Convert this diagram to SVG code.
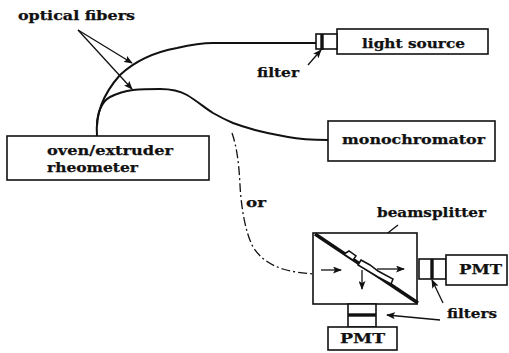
<svg xmlns="http://www.w3.org/2000/svg" width="509" height="353" viewBox="0 0 509 353">
<style>
.b{fill:#fff;stroke:#111;stroke-width:1.6}
.f{fill:none;stroke:#111;stroke-width:2}
.t{fill:none;stroke:#111;stroke-width:3.4}
.a{fill:none;stroke:#111;stroke-width:1.3}
.e{fill:#fff;stroke:#111;stroke-width:1.5}
text{font-family:"DejaVu Serif","Liberation Serif",serif;font-weight:bold;font-size:13px;fill:#111;stroke:#111;stroke-width:.25}
</style>
<defs><marker id="h" markerWidth="9" markerHeight="7" refX="8" refY="3.5" orient="auto" markerUnits="userSpaceOnUse"><path d="M0 0L9 3.5L0 7L2 3.5Z" fill="#111"/></marker></defs>
<rect width="509" height="353" fill="#fff"/>
<g id="connectors">
<path class="f" d="M97 136C95 112 104 93 120 75C135 61 155 52 177 48C190 45 200 43 213 43H316"/>
<path class="f" d="M97 126C97 113 102 101 110 97C118 93 125 91 133 90C143 89 152 89 160 89C172 89 180 91 187 95C197 101 205 108 213 113C220 117 226 120 233 123C241 126 248 128 255 130C266 133 277 135 288 137C298 139 310 140 328 140"/>
<path class="a" stroke-dasharray="9 3 2 3" d="M232 133C237 147 239 165 240 185C241 205 245 232 253 247C260 258 270 265 283 269C292 272 303 273 313 274"/>
<path class="a" marker-end="url(#h)" d="M78 30L132 63"/>
<path class="a" marker-end="url(#h)" d="M78 30L132 89"/>
<path class="a" marker-end="url(#h)" d="M308 65L321 50"/>
<path class="a" marker-end="url(#h)" d="M398 225L357 257"/>
<path class="a" marker-end="url(#h)" d="M443 303L432 280"/>
<path class="a" marker-end="url(#h)" d="M440 320L387 315"/>
</g>
<g id="oven"><rect class="b" x="7" y="136" width="202" height="44"/><text x="47" y="155" textLength="126" lengthAdjust="spacingAndGlyphs">oven/extruder</text><text x="47" y="172" textLength="91" lengthAdjust="spacingAndGlyphs">rheometer</text></g>
<g id="fibers-label"><text x="18" y="20" textLength="117" lengthAdjust="spacingAndGlyphs">optical fibers</text></g>
<g id="light-source"><rect class="b" x="337" y="29" width="151" height="25"/><text x="362" y="48" textLength="103" lengthAdjust="spacingAndGlyphs">light source</text></g>
<g id="filter-top"><rect class="b" x="316" y="34" width="21" height="15"/><path class="t" d="M322 34V50"/><text x="257" y="77" textLength="42" lengthAdjust="spacingAndGlyphs">filter</text></g>
<g id="monochromator"><rect class="b" x="328" y="121" width="167" height="40"/><text x="342" y="144" textLength="143" lengthAdjust="spacingAndGlyphs">monochromator</text></g>
<g id="or-label"><text x="246" y="207" textLength="20" lengthAdjust="spacingAndGlyphs">or</text></g>
<g id="splitter"><rect class="b" x="313" y="233" width="104" height="71"/>
<path class="t" d="M315 234L418 303"/>
<path class="a" marker-end="url(#h)" d="M321 270H341"/>
<path class="a" marker-end="url(#h)" d="M377 269H404"/>
<path class="a" marker-end="url(#h)" d="M362 270V289"/>
<path class="e" d="M344 254L349 251L356 256L353 260Z"/>
<path class="e" d="M361 260L370 265L378 271L393 279L391 284L378 277L358 265Z"/>
<text x="377" y="217" textLength="109" lengthAdjust="spacingAndGlyphs">beamsplitter</text></g>
<g id="pmt-right"><rect class="b" x="419" y="259" width="27" height="20"/><path class="t" d="M432 259V279"/><rect class="b" x="446" y="255" width="61" height="30"/><text x="459" y="274" textLength="43" lengthAdjust="spacingAndGlyphs">PMT</text></g>
<g id="pmt-bottom"><rect class="b" x="348" y="304" width="28" height="23"/><path class="t" d="M348 315H376"/><rect class="b" x="328" y="327" width="69" height="23"/><text x="340" y="343" textLength="45" lengthAdjust="spacingAndGlyphs">PMT</text></g>
<g id="filters-label"><text x="447" y="318" textLength="50" lengthAdjust="spacingAndGlyphs">filters</text></g>
</svg>
